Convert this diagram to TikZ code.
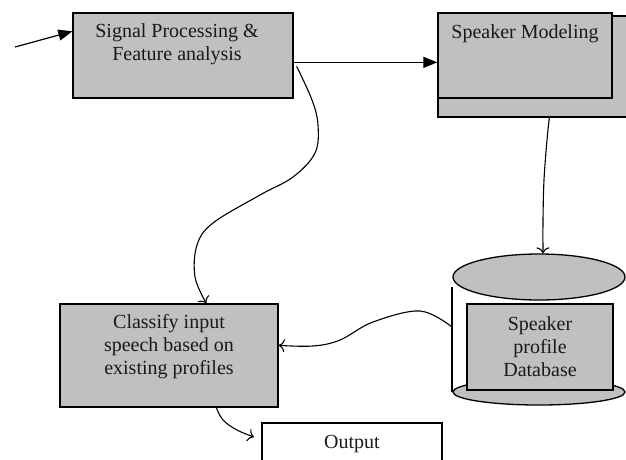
\documentclass[tikz,border=0pt]{standalone}
\usepackage{fontspec}
\setmainfont{Liberation Serif}
\usetikzlibrary{arrows.meta,calc,shapes.geometric}
\begin{document}
\begin{tikzpicture}[x=1pt,y=-1pt,
  box/.style={draw=black,line width=1.3pt,fill=boxgray,inner sep=0pt},
  lbl/.style={font=\fontsize{20}{23}\selectfont,align=center,text=black!90},
  solidarr/.style={line width=1.2pt,-{Triangle[length=14pt,width=11pt]}},
  wavyarr/.style={line width=1.1pt,-{To[length=6pt,width=13pt]}}]
\definecolor{boxgray}{HTML}{C0C0C0}
\useasboundingbox (0,0) rectangle (626,459);
\clip (0,0) rectangle (626,459);

% signal processing block
\node[box,minimum width=220pt,minimum height=85pt] (sp) at (183,55.5) {};
\node[lbl] (sptext) at (177,44) {Signal Processing \&\\Feature analysis};

% speaker modeling block (stacked pages)
\node[box,minimum width=202pt,minimum height=101pt] (smback) at (539,66.5) {};
\node[box,minimum width=174pt,minimum height=85pt] (sm) at (525,55.5) {};
\node[lbl] (smtext) at (525,34) {Speaker Modeling};

% speaker profile database cylinder
\node[box,ellipse,minimum width=172pt,minimum height=26pt] (dbbot) at (539,392) {};
\node[box,ellipse,minimum width=172pt,minimum height=46pt] (dbtop) at (539,277) {};
\coordinate (dbside) at (452,287);
\draw[line width=1.3pt] (dbside) -- (452,392);
\node[box,minimum width=146pt,minimum height=86pt] (db) at (540,347) {};
\node[lbl] (dbtext) at (540,347) {Speaker\\profile\\Database};

% classifier block
\node[box,minimum width=218pt,minimum height=103pt] (cl) at (169,355.5) {};
\node[lbl] (cltext) at (169,347) {Classify input\\speech based on\\existing profiles};

% output block
\node[draw=black,line width=1.3pt,fill=white,minimum width=180pt,minimum height=50pt,inner sep=0pt] (out) at (352,448) {};
\node[lbl] (outtext) at (352,444) {Output};

% connectors
\coordinate (in) at (15,47);
\draw[solidarr] (in) -- ($(sp.north west)+(0,19)$);
\coordinate (spout) at ($(sp.north east)+(0,50)$);
\draw[solidarr] (spout) -- (spout -| sm.west);

\draw[wavyarr] plot[smooth,tension=0.6] coordinates
  {($(sp.north east)+(3,54)$) (312,100) (318,125) (315,153) (293,177) (260,195)
   (213,223) (197,245) (195,277) ($(cl.north west)+(147,0)$)};

\draw[wavyarr] plot[smooth,tension=0.6] coordinates
  {($(smback.south west)+(112,0)$) (547,140) (544,180) (543,220) ($(dbtop.north)+(4,0)$)};

\draw[wavyarr] plot[smooth,tension=0.6] coordinates
  {($(dbside)+(0,40)$) (420,311) (373,322) (340,340) (313,346) ($(cl.north east)+(0,42)$)};

\coordinate (outin) at (254,437);
\draw[wavyarr] plot[smooth,tension=0.6] coordinates
  {($(cl.south west)+(157,0)$) (223,420) (237,430) (outin)};
\end{tikzpicture}
\end{document}
